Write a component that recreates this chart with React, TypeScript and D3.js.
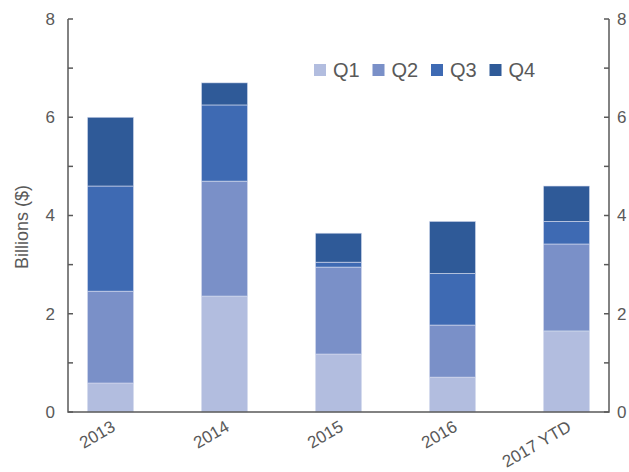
import React from "react";
import * as d3 from "d3";

const categories = ["2013", "2014", "2015", "2016", "2017 YTD"];
const seriesNames = ["Q1", "Q2", "Q3", "Q4"];
const q1 = [0.59, 2.36, 1.18, 0.71, 1.65];
const q2 = [1.87, 2.34, 1.77, 1.06, 1.77];
const q3 = [2.14, 1.55, 0.1, 1.05, 0.46];
const q4 = [1.4, 0.45, 0.59, 1.06, 0.72];
const yTicks = [0, 2, 4, 6, 8];
const minorTicks = [0, 1, 2, 3, 4, 5, 6, 7, 8];
const colors = ["#b2bddf", "#7a90c8", "#3e6ab3", "#2f5a98"];

const W = 629;
const H = 472;
const axisLeft = 68;
const axisRight = 609;
const yTop = 19;
const yBottom = 412;

export default function App() {
  const rows = categories.map((c, i) => ({ cat: c, Q1: q1[i], Q2: q2[i], Q3: q3[i], Q4: q4[i] }));
  const stack = d3.stack<any>().keys(seriesNames)(rows);
  const y = d3.scaleLinear().domain([0, 8]).range([yBottom, yTop]);
  const x = d3.scaleBand().domain(categories).range([53.5, 623.5]).paddingInner(0.596).paddingOuter(0.298);
  const axisColor = "#595959";
  const font = "'Liberation Sans', Arial, sans-serif";
  return (
    <svg width={W} height={H} style={{ position: "absolute", left: 0, top: 0 }} fontFamily={font}>
      <rect width={W} height={H} fill="#fff" />
      {stack.map((s, si) => (
        <g key={seriesNames[si]} fill={colors[si]}>
          {s.map((d, i) => (
            <rect
              key={i}
              x={x(categories[i])}
              width={x.bandwidth()}
              y={y(d[1])}
              height={y(d[0]) - y(d[1])}
              stroke="#d6dcef"
              strokeWidth={0.6}
            />
          ))}
        </g>
      ))}
      <path
        d={`M${axisLeft},${yTop}V${yBottom}H${axisRight}V${yTop}`}
        fill="none"
        stroke={axisColor}
        strokeWidth={1.5}
      />
      {minorTicks.map((t) => (
        <g key={t}>
          <line x1={axisLeft} x2={axisLeft + 5} y1={y(t)} y2={y(t)} stroke={axisColor} strokeWidth={1.5} />
          <line x1={axisRight - 5} x2={axisRight} y1={y(t)} y2={y(t)} stroke={axisColor} strokeWidth={1.5} />
        </g>
      ))}
      {yTicks.map((t) => (
        <g key={t} fontSize={17} fill={axisColor}>
          <text x={55} y={y(t)} dy="0.35em" textAnchor="end">{t}</text>
          <text x={617} y={y(t)} dy="0.35em" textAnchor="start">{t}</text>
        </g>
      ))}
      <text
        transform={`translate(28,227) rotate(-90)`}
        textAnchor="middle"
        fontSize={18}
        fill={axisColor}
      >
        Billions ($)
      </text>
      {categories.map((c) => (
        <text
          key={c}
          transform={`translate(${(x(c) as number) + x.bandwidth() / 2 + 6},${430}) rotate(-30)`}
          textAnchor="end"
          fontSize={17}
          fill={axisColor}
        >
          {c}
        </text>
      ))}
      {seriesNames.map((n, i) => (
        <g key={n} transform={`translate(${314 + i * 58.5},64)`}>
          <rect width={12} height={12} fill={colors[i]} />
          <text x={19} y={13} fontSize={20} fill={axisColor}>{n}</text>
        </g>
      ))}
    </svg>
  );
}
